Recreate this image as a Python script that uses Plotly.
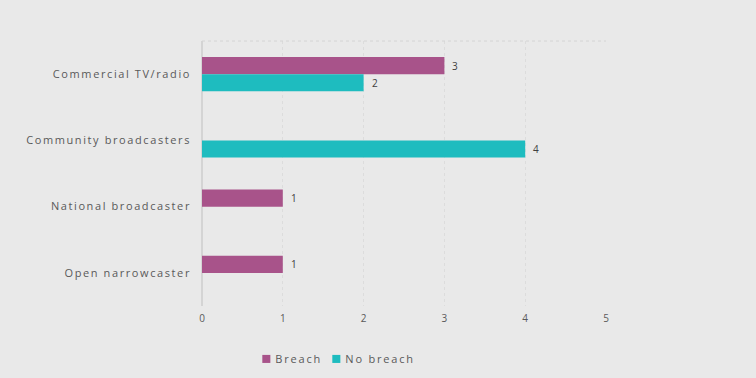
import plotly.graph_objects as go

categories = ["Commercial TV/radio", "Community broadcasters", "National broadcaster", "Open narrowcaster"]
breach = [3, None, 1, 1]
no_breach = [2, 4, None, None]
x_ticks = [0, 1, 2, 3, 4, 5]

BG = "#e9e9e9"
FONT = "Open Sans, Segoe UI, sans-serif"

fig = go.Figure()
fig.add_trace(go.Bar(
    y=categories, x=breach, name="Breach", orientation="h",
    marker=dict(color="#a8538a", line=dict(width=0)),
))
fig.add_trace(go.Bar(
    y=categories, x=no_breach, name="No breach", orientation="h",
    marker=dict(color="#1ebcbf", line=dict(width=0)),
))

fig.update_layout(
    width=756, height=378,
    paper_bgcolor=BG, plot_bgcolor=BG,
    margin=dict(l=202, r=150, t=41, b=72, autoexpand=False),
    barmode="group", bargap=0.485, bargroupgap=0,
    font=dict(family=FONT, color="#595959", size=11),
    showlegend=True,
    legend=dict(orientation="h", x=0.283, xanchor="center", y=-0.145, yanchor="top",
                font=dict(size=11, color="#595959"), itemwidth=30,
                entrywidth=25, entrywidthmode="pixels",
                traceorder="normal", bgcolor="rgba(0,0,0,0)"),
    xaxis=dict(range=[0, 5], tickvals=x_ticks, showgrid=True, gridcolor="#dcdcdc",
               griddash="dot", zeroline=True, zerolinecolor="#d4d4d4",
               tickfont=dict(size=10, color="#595959"), ticks="", showline=False,
               ticklabelstandoff=5, fixedrange=True),
    yaxis=dict(autorange="reversed", showgrid=False, ticks="", ticklabelstandoff=10,
               tickfont=dict(size=11, color="#595959"), fixedrange=True),
)
fig.add_shape(type="line", xref="paper", yref="paper", x0=0, x1=1, y0=1, y1=1,
              line=dict(color="#d4d4d4", width=1, dash="dot"))

# value labels, positioned by the data via the axes
for cat, v in zip(categories, breach):
    if v is not None:
        fig.add_annotation(x=v, y=cat, text=str(v), showarrow=False, xanchor="left",
                           xshift=6, yshift=8.5, font=dict(size=10, color="#404040"))
for cat, v in zip(categories, no_breach):
    if v is not None:
        fig.add_annotation(x=v, y=cat, text=str(v), showarrow=False, xanchor="left",
                           xshift=6, yshift=-8.5, font=dict(size=10, color="#404040"))

post = """
var s=document.createElement('style');
s.innerHTML='html,body{margin:0;padding:0;overflow:hidden;} .ytick text{letter-spacing:1.6px;} '
 + '.legendtext{letter-spacing:1.8px; transform:translateX(-11px);} '
 + '.legend, .legend *{clip-path:none !important;} '
 + '.legendpoints path{transform:translate(20px,0px) scale(0.67) !important;}';
document.head.appendChild(s);
"""
fig.write_html("out.html", post_script=post, config={"displayModeBar": False})
